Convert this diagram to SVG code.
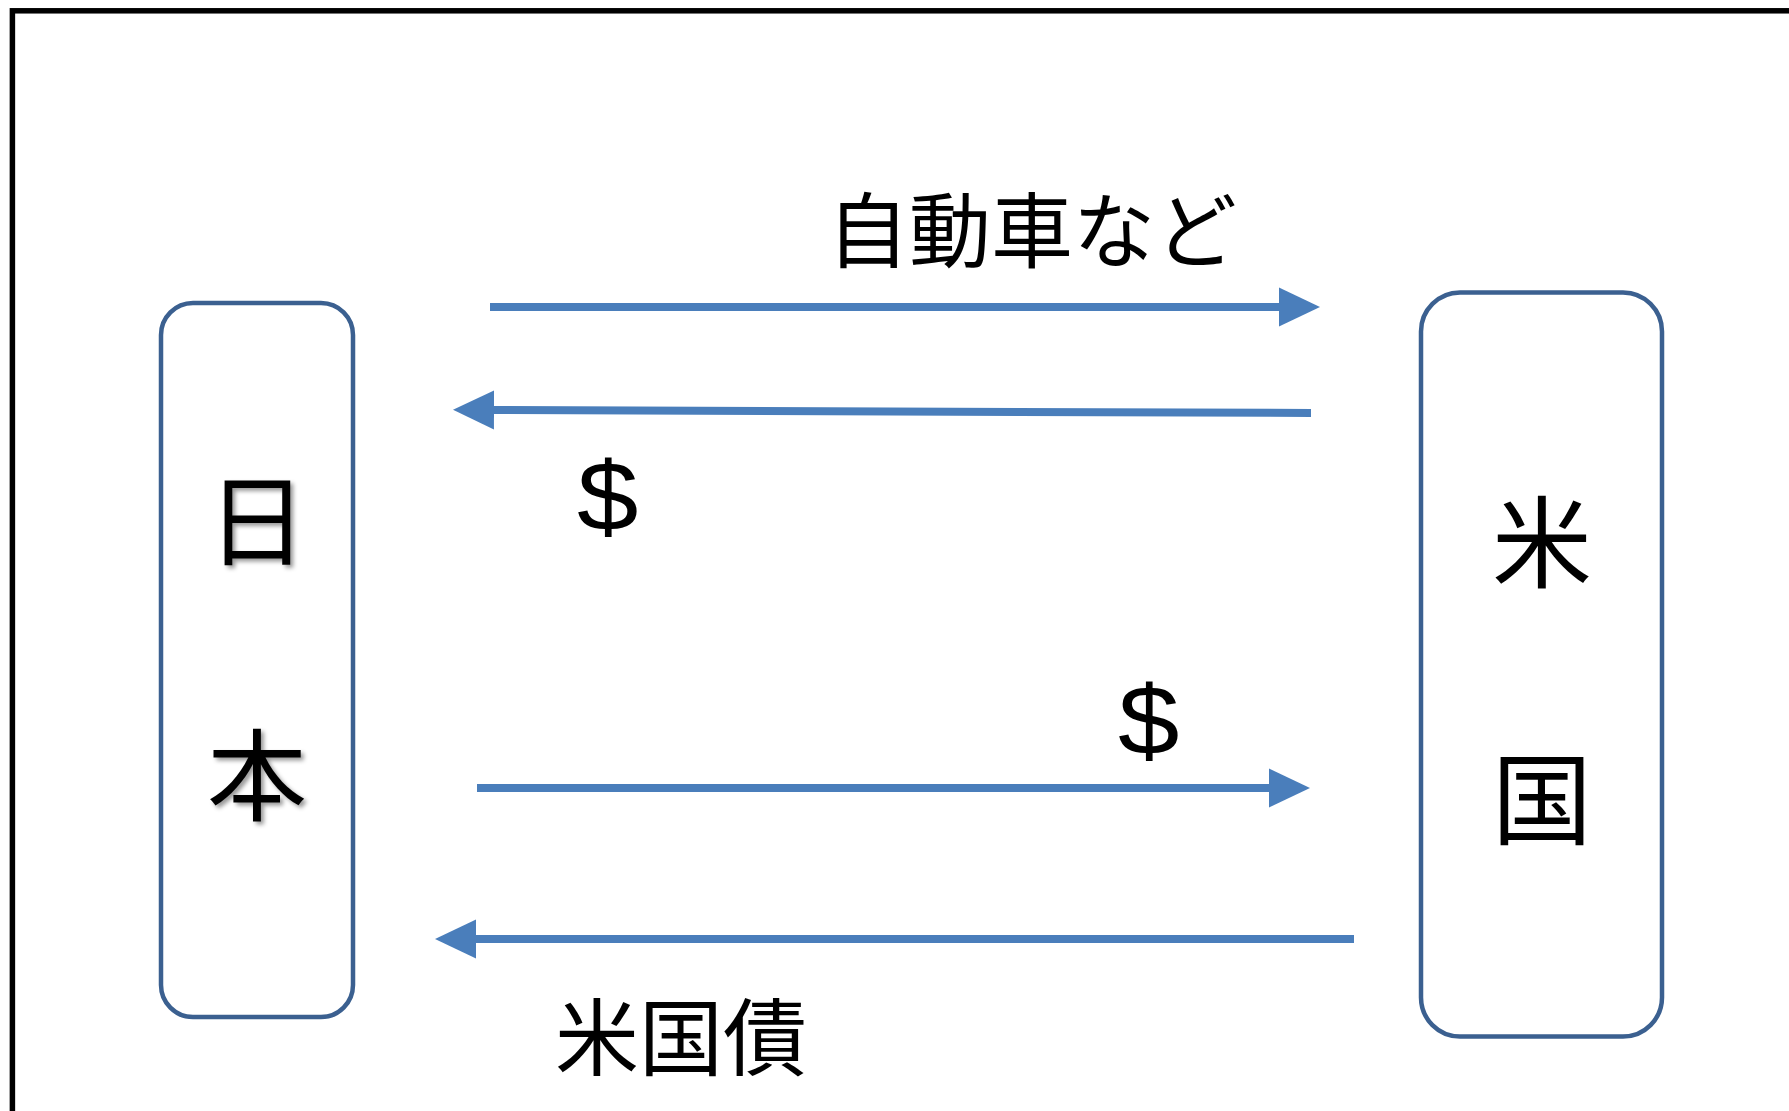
<svg xmlns="http://www.w3.org/2000/svg" width="1789" height="1111" viewBox="0 0 1789 1111">
<style>
.box{fill:#fff;stroke:#3b6090;stroke-width:4.5}
.jp{font-family:"Noto Sans CJK JP","Noto Sans CJK SC",sans-serif;fill:#000}
.node{font-size:100px;text-anchor:middle}
.lbl{font-size:82px}
.usd{font-family:"Liberation Sans",Arial,sans-serif;font-size:99px;fill:#000}
.conn{stroke:#4a7ebb;stroke-width:8;fill:none;marker-end:url(#ah)}
</style>
<defs>
<marker id="ah" markerUnits="userSpaceOnUse" markerWidth="42" markerHeight="40" refX="0" refY="20" orient="auto">
<path d="M0,0.5 L41,20 L0,39.5 z" fill="#4a7ebb"/>
</marker>
<filter id="sh" x="-20%" y="-20%" width="150%" height="150%">
<feDropShadow dx="3" dy="3" stdDeviation="2" flood-color="#000" flood-opacity="0.4"/>
</filter>
</defs>
<rect x="12.4" y="10.8" width="1800" height="1200" fill="none" stroke="#000" stroke-width="5.5"/>
<g id="japan">
<rect class="box" x="161" y="303" width="192" height="714" rx="32" ry="32"/>
<text class="jp node" x="257" y="558" filter="url(#sh)">日</text>
<text class="jp node" x="257" y="813" filter="url(#sh)">本</text>
</g>
<g id="usa">
<rect class="box" x="1421" y="292.5" width="241" height="744" rx="39" ry="39"/>
<text class="jp node" x="1542" y="580">米</text>
<text class="jp node" x="1542" y="837">国</text>
</g>
<g id="connectors">
<path class="conn" d="M490,307 H1279"/>
<path class="conn" d="M1311,413 L494,410"/>
<path class="conn" d="M477,788 H1269"/>
<path class="conn" d="M1354,939 H476"/>
</g>
<g id="labels">
<text class="jp lbl" x="827" y="261">自動車など</text>
<text class="usd" transform="translate(577,530) scale(1.115 1)">$</text>
<text class="usd" transform="translate(1118,754) scale(1.115 1)">$</text>
<text class="jp lbl" x="555" y="1069" style="font-size:84px">米国債</text>
</g>
</svg>
